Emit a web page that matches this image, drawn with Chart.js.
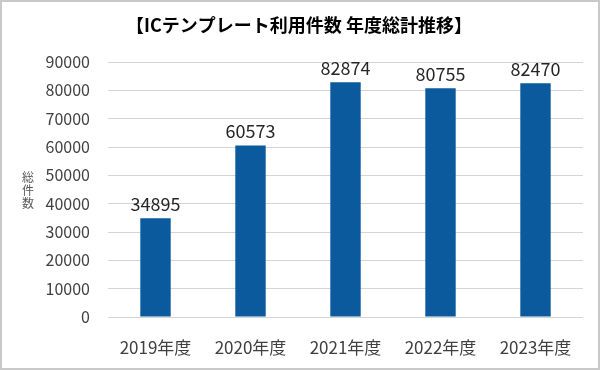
<!DOCTYPE html>
<html>
<head>
<meta charset="utf-8">
<script src="https://cdn.jsdelivr.net/npm/chart.js@4/dist/chart.umd.min.js"></script>
<style>
    html, body { margin: 0; padding: 0; background: #fff; }
    #wrap {
        width: 600px; height: 370px;
        box-sizing: border-box;
        border: 2px solid #c9c9c9;
        background: #fff;
    }
</style>
</head>
<body>
<div id="wrap"><canvas id="grafico" width="596" height="366"></canvas></div>
<script>
// Datos
const categorias = ['2019年度', '2020年度', '2021年度', '2022年度', '2023年度'];
const totales = [34895, 60573, 82874, 80755, 82470];
const ticksY = [0, 10000, 20000, 30000, 40000, 50000, 60000, 70000, 80000, 90000];
const titulo = '【ICテンプレート利用件数 年度総計推移】';
const tituloEje = ['総', '件', '数'];

const fuente = '"Noto Sans CJK JP", "Noto Sans", sans-serif';

// Título, etiquetas de valor encima de cada barra y título vertical del eje
const etiquetas = {
    id: 'etiquetas',
    afterDatasetsDraw(chart) {
        const ctx = chart.ctx;
        const meta = chart.getDatasetMeta(0);
        ctx.save();

        // Título
        ctx.font = 'bold 18px ' + fuente;
        ctx.fillStyle = '#000';
        ctx.textAlign = 'center';
        ctx.textBaseline = 'middle';
        ctx.fillText(titulo, 297, 23);

        // Valores
        ctx.font = '18px ' + fuente;
        ctx.fillStyle = '#262626';
        ctx.textBaseline = 'bottom';
        meta.data.forEach((bar, i) => {
            ctx.fillText(String(totales[i]), bar.x, bar.y - 5);
        });

        // "総件数" en vertical
        const area = chart.chartArea;
        const centro = (area.top + area.bottom) / 2 + 1;
        ctx.font = '12px ' + fuente;
        ctx.fillStyle = '#595959';
        ctx.textBaseline = 'middle';
        for (let i = 0; i < tituloEje.length; i++) {
            ctx.fillText(tituloEje[i], 26, centro + (i - 1) * 13);
        }
        ctx.restore();
    }
};

const ctx = document.getElementById('grafico').getContext('2d');
const grafico = new Chart(ctx, {
    type: 'bar',
    data: {
        labels: categorias,
        datasets: [{
            data: totales,
            backgroundColor: '#0b5a9e',
            barPercentage: 0.64,
            categoryPercentage: 0.5
        }]
    },
    options: {
        responsive: false,
        animation: false,
        layout: {
            padding: { top: 60, right: 15, bottom: 0, left: 0 }
        },
        plugins: {
            legend: { display: false },
            tooltip: { enabled: false },
            title: { display: false }
        },
        scales: {
            x: {
                afterFit(scale) { scale.height = 51; },
                grid: { display: false, drawTicks: false },
                border: { display: false },
                ticks: {
                    color: '#404040',
                    font: { family: fuente, size: 17 },
                    padding: 20,
                    maxRotation: 0
                }
            },
            y: {
                min: 0,
                max: 90000,
                afterFit(scale) { scale.width = 106; },
                afterBuildTicks(scale) {
                    scale.ticks = ticksY.map(v => ({ value: v }));
                },
                grid: { color: '#d4d4d4', drawTicks: false, lineWidth: 1 },
                border: { display: false },
                ticks: {
                    color: '#404040',
                    font: { family: fuente, size: 16 },
                    padding: 18,
                    callback: v => String(v)
                }
            }
        }
    },
    plugins: [etiquetas]
});
</script>
</body>
</html>
